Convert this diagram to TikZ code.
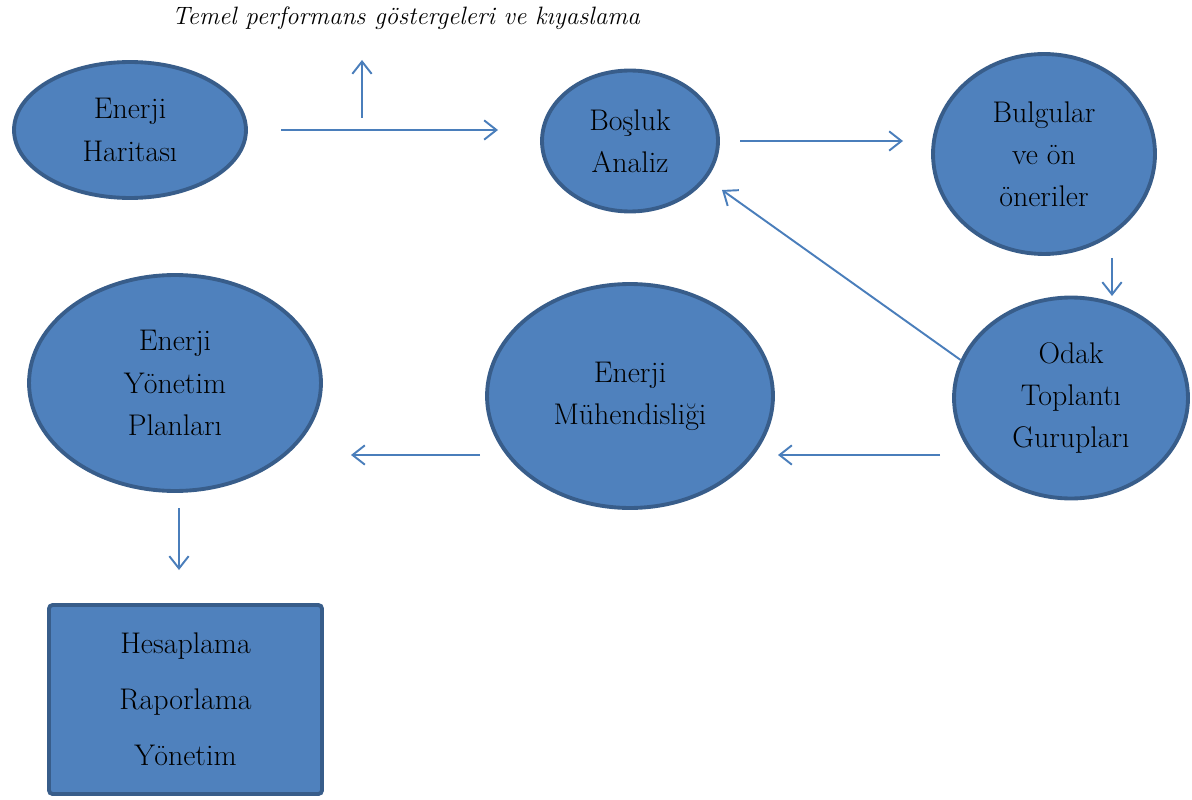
\documentclass[tikz,border=0pt]{standalone}
\usetikzlibrary{shapes.geometric,arrows.meta}
\definecolor{blobfill}{HTML}{4F81BD}
\definecolor{blobline}{HTML}{385D8A}
\definecolor{arrline}{HTML}{4A7EBB}
\tikzset{
  blob/.style={ellipse,draw=blobline,fill=blobfill,line width=2.2pt,inner sep=0pt,
    align=center,font=\fontsize{17}{24}\selectfont},
  arr/.style={draw=arrline,line width=1.1pt,-{Straight Barb[length=7pt,width=11pt]}}
}
\newcommand{\pin}[3]{\coordinate (#1) at (#2,#3);}

\begin{document}
\begin{tikzpicture}[x=0.02cm,y=-0.02cm]
       \useasboundingbox (0,0) rectangle (1192,800);
       % the steps
       \node[blob,minimum width=4.64cm,minimum height=2.72cm] (harita) at (130,130) {Enerji\\Haritası};
       \node[blob,minimum width=3.52cm,minimum height=2.82cm] (bosluk) at (630,141) {Boşluk\\Analiz};
       \node[blob,minimum width=4.44cm,minimum height=4.0cm] (bulgu) at (1044,154) {Bulgular\\ve ön\\öneriler};
       \node[blob,minimum width=4.68cm,minimum height=4.02cm] (odak) at (1071,398) {Odak\\Toplantı\\Gurupları};
       \node[blob,minimum width=5.72cm,minimum height=4.48cm] (muhendis) at (630,396) {Enerji\\Mühendisliği};
       \node[blob,minimum width=5.84cm,minimum height=4.32cm] (plan) at (175,383) {Enerji\\Yönetim\\Planları};
       \node[draw=blobline,fill=blobfill,line width=2.2pt,rounded corners=2pt,inner sep=0pt,
             minimum width=5.46cm,minimum height=3.78cm,align=center,
             font=\fontsize{17}{32}\selectfont] (rapor) at (185.5,699.5) {Hesaplama\\Raporlama\\Yönetim};
       \node[font=\fontsize{14.3}{18}\selectfont\itshape] (kpi) at (406,18) {Temel performans göstergeleri ve kıyaslama};
       % arrow ends
       \pin{a1}{281}{130} \pin{a2}{498}{130}
       \pin{b1}{362}{118} \pin{b2}{362}{60}
       \pin{c1}{740}{141} \pin{c2}{903}{141}
       \pin{d1}{1112}{258} \pin{d2}{1112}{296}
       \pin{e2}{722}{190}
       \pin{f1}{940}{455} \pin{f2}{778}{455}
       \pin{g1}{480}{455} \pin{g2}{351}{455}
       \pin{h1}{179}{508} \pin{h2}{179}{570}
       \draw[arr] (a1) -- (a2);
       \draw[arr] (b1) -- (b2);
       \draw[arr] (c1) -- (c2);
       \draw[arr] (d1) -- (d2);
       \draw[arr] (odak.161) -- (e2);
       \draw[arr] (f1) -- (f2);
       \draw[arr] (g1) -- (g2);
       \draw[arr] (h1) -- (h2);
\end{tikzpicture}
\end{document}
